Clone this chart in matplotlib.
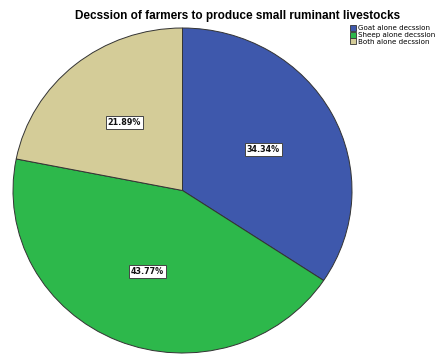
import matplotlib
matplotlib.use("Agg")
import matplotlib.pyplot as plt
from matplotlib.patches import Patch

categories = ["Goat alone decssion", "Sheep alone decssion", "Both alone decssion"]
values = [34.34, 43.77, 21.89]
colors = ["#3e58ac", "#2db84b", "#d4cc98"]
title = "Decssion of farmers to produce small ruminant livestocks"

W, H = 437, 356
fig = plt.figure(figsize=(W / 100, H / 100), dpi=100)
x0, x1, y0, y1 = 13, 352, 28, 353
ax = fig.add_axes([x0 / W, (H - y1) / H, (x1 - x0) / W, (y1 - y0) / H])
wedges, texts, autotexts = ax.pie(
    values, colors=colors, startangle=90, counterclock=False,
    autopct="%.2f%%", pctdistance=0.54, radius=1,
    wedgeprops=dict(edgecolor="#333333", linewidth=0.7),
)
for t in autotexts:
    t.set_fontsize(5.8)
    t.set_fontweight("bold")
    t.set_color("#111111")
    t.set_bbox(dict(boxstyle="square,pad=0.25", facecolor="white", edgecolor="#444444", linewidth=0.7))
ax.set_xlim(-1, 1)
ax.set_ylim(-1, 1)
ax.set_aspect("auto")
ax.axis("off")

fig.text(238 / W, 1 - 16 / H, title, ha="center", va="center", fontsize=8.5, fontweight="bold",
         family="Liberation Sans")

handles = [Patch(facecolor=c, edgecolor="#333333", linewidth=0.6) for c in colors]
fig.legend(handles, categories, loc="upper left", bbox_to_anchor=(350 / W, 1 - 25 / H),
           frameon=False, fontsize=5.1, handlelength=0.9, handleheight=0.9,
           handletextpad=0.3, labelspacing=0.05, borderpad=0, borderaxespad=0)

fig.savefig("out.png", dpi=100)
